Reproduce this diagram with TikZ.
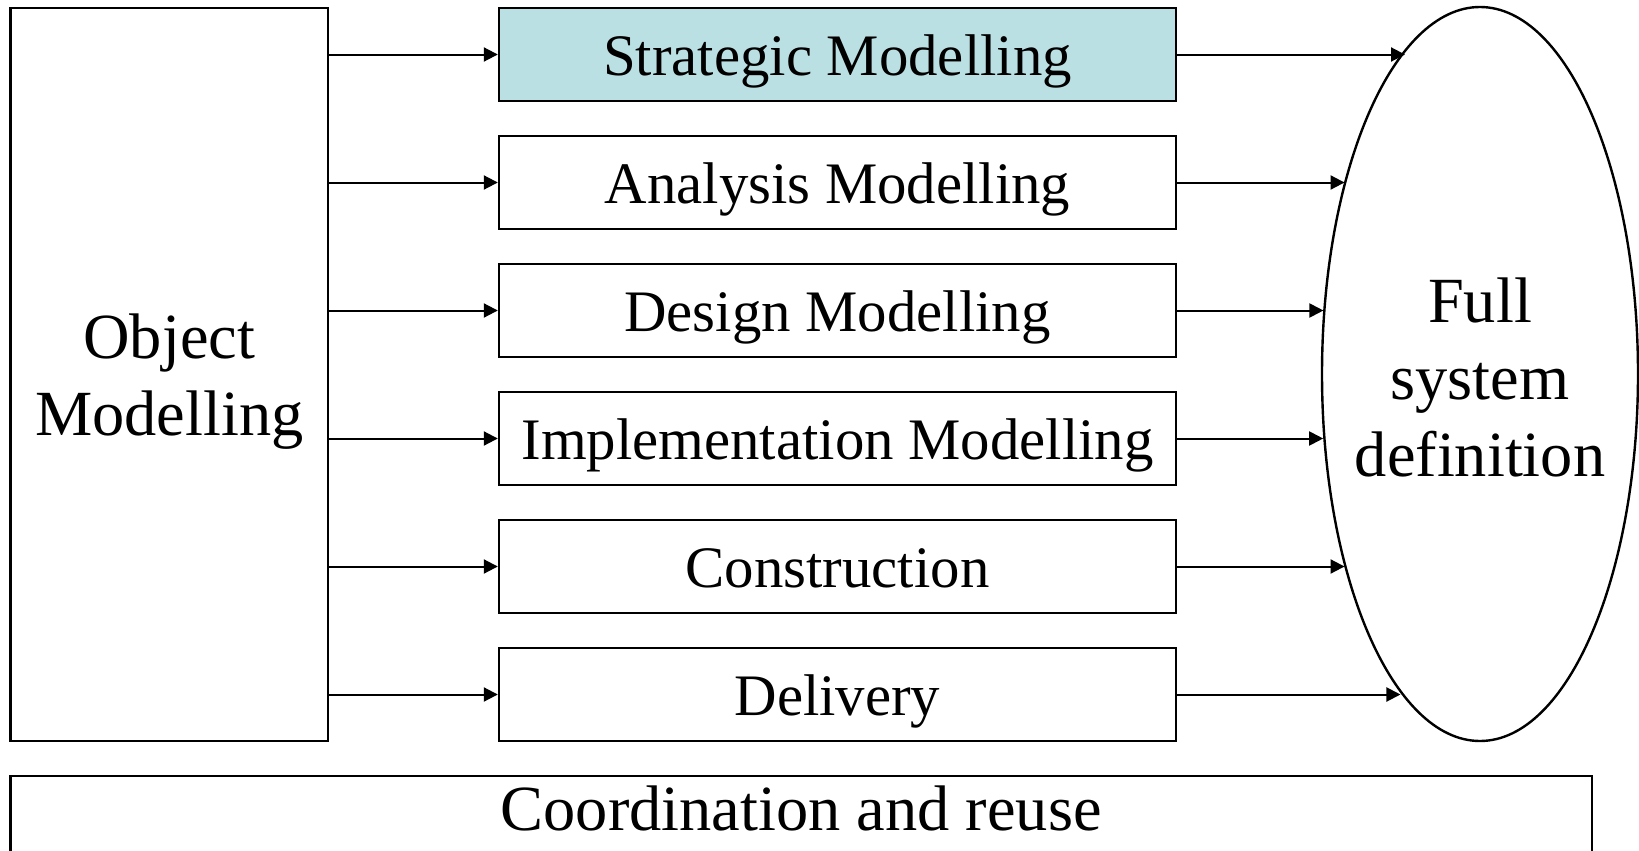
\documentclass[tikz,border=0pt]{standalone}
\usepackage{fontspec}
\setmainfont{Liberation Serif}
\usetikzlibrary{arrows.meta,positioning,shapes.geometric}
\definecolor{stratfill}{RGB}{187,224,227}

\begin{document}
\begin{tikzpicture}[x=0.5pt,y=-0.5pt,->,>={Triangle[length=7pt,width=7pt]},line width=1pt,
    node distance=16.3pt,font=\fontsize{29.4}{38.5}\selectfont,
    stage/.style={rectangle,draw,line width=1.2pt,minimum width=338.5pt,minimum height=46.5pt,
      inner sep=0pt,text height=20.5pt,text depth=0pt},
    bigtext/.style={inner sep=0pt,align=center,text depth=0pt,font=\fontsize{32.2}{38.5}\selectfont},
    big/.style={bigtext,draw,line width=1.2pt}]

  \path[use as bounding box,clip] (0,0) rectangle (1639,851);

  \node[big,minimum width=158.75pt,minimum height=366.5pt] (obj) at (169.25,374.5) {Object\\Modelling};
  \node[stage,fill=stratfill] (strat) at (837.5,54.5) {Strategic Modelling};
  \node[stage] (ana) [below=of strat] {Analysis Modelling};
  \node[stage] (des) [below=of ana] {Design Modelling};
  \node[stage] (impl) [below=of des] {Implementation Modelling};
  \node[stage] (cons) [below=of impl] {Construction};
  \node[stage] (deliv) [below=of cons] {Delivery};
  \node[big,ellipse,minimum width=158pt,minimum height=367pt] (full) at (1480,374) {};
  \node[bigtext,text height=102pt] (fulltext) at (full.center) {Full\\system\\definition};
  \node[big,minimum width=790.75pt,minimum height=46.5pt,text height=20.5pt,text depth=12.4pt] (coord) at (801.25,822.5) {Coordination and reuse};

  \path (obj.east |- strat.west) edge (strat.west)
        (obj.east |- ana.west) edge (ana.west)
        (obj.east |- des.west) edge (des.west)
        (obj.east |- impl.west) edge (impl.west)
        (obj.east |- cons.west) edge (cons.west)
        (obj.east |- deliv.west) edge (deliv.west)
        (strat.east) edge (strat.east -| full.103.67)
        (ana.east) edge (ana.east -| full.125.15)
        (des.east) edge (des.east -| full.157.8)
        (impl.east) edge (impl.east -| full.202.5)
        (cons.east) edge (cons.east -| full.235.06)
        (deliv.east) edge (deliv.east -| full.256.49)
        ;

\end{tikzpicture}
\end{document}
